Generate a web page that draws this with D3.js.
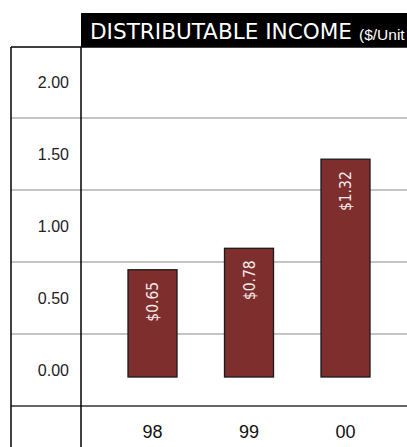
<!DOCTYPE html>
<html><head><meta charset="utf-8">
<script src="https://cdn.jsdelivr.net/npm/d3@7"></script>
<style>html,body{margin:0;padding:0;background:#fff;}svg{display:block;}</style>
</head><body>
<svg id="chart" width="407" height="447"></svg>
<script>
const categories = ["98", "99", "00"];
const values = [0.65, 0.78, 1.32];
const valueLabels = ["$0.65", "$0.78", "$1.32"];
const tickValues = [2.0, 1.5, 1.0, 0.5, 0.0];
const tickLabels = ["2.00", "1.50", "1.00", "0.50", "0.00"];
const gridValues = [1.75, 1.25, 0.75, 0.25];
const title = "DISTRIBUTABLE INCOME";
const subtitle = "($/Unit";

const svg = d3.select("#chart");
const W = 407, H = 447;
const leftX = 11, axisX = 81, topY = 47;

// bar value scale
const y = d3.scaleLinear().domain([0, 2]).range([377, 47]);
// row (table) scale for tick labels and grid lines
const row = d3.scaleLinear().domain([0, 2]).range([370, 82]);
const x = d3.scalePoint().domain(categories).range([152.5, 345.5]);
const barW = 49;

// title bar
svg.append("rect").attr("x", axisX).attr("y", 13).attr("width", W - axisX).attr("height", topY - 13).attr("fill", "#000");
svg.append("text").attr("x", 90).attr("y", 39).attr("fill", "#fff")
  .attr("textLength", 262).attr("lengthAdjust", "spacingAndGlyphs")
  .style("font-family", "'DejaVu Sans Condensed','DejaVu Sans',sans-serif").style("font-size", "21px")
  .text(title);
svg.append("text").attr("x", 359).attr("y", 40).attr("fill", "#fff")
  .style("font-size", "15.5px").style("font-family", "'Liberation Sans',Arial,sans-serif").text(subtitle);

// grid lines
svg.selectAll("line.grid").data(gridValues).join("line").attr("class", "grid")
  .attr("x1", leftX).attr("x2", W).attr("y1", d => row(d)).attr("y2", d => row(d))
  .attr("stroke", "#8a8a8a").attr("stroke-width", 1.2);
// bottom table line
svg.append("line").attr("x1", leftX).attr("x2", W).attr("y1", row(-0.25)).attr("y2", row(-0.25))
  .attr("stroke", "#333").attr("stroke-width", 1.5);
// top line
svg.append("line").attr("x1", leftX).attr("x2", W).attr("y1", topY).attr("y2", topY)
  .attr("stroke", "#000").attr("stroke-width", 1.5);
// vertical lines
svg.append("line").attr("x1", leftX).attr("x2", leftX).attr("y1", topY).attr("y2", H).attr("stroke", "#000").attr("stroke-width", 1.5);
svg.append("line").attr("x1", axisX).attr("x2", axisX).attr("y1", topY).attr("y2", H).attr("stroke", "#000").attr("stroke-width", 1.5);

// tick labels
svg.selectAll("text.tick").data(tickValues).join("text").attr("class", "tick")
  .attr("x", 69).attr("y", d => row(d) + 6).attr("text-anchor", "end")
  .style("font-family", "'Liberation Sans',Arial,sans-serif").style("font-size", "16px").attr("fill", "#222")
  .text((d, i) => tickLabels[i]);

// bars
svg.selectAll("rect.bar").data(values).join("rect").attr("class", "bar")
  .attr("x", (d, i) => x(categories[i]) - barW / 2).attr("width", barW)
  .attr("y", d => y(d)).attr("height", d => y(0) - y(d))
  .attr("fill", "#7f2e2e").attr("stroke", "#1a1a1a").attr("stroke-width", 1.3);

// value labels (rotated)
svg.selectAll("text.val").data(values).join("text").attr("class", "val")
  .attr("transform", (d, i) => `translate(${x(categories[i]) + 5.5},${y(d) + 12}) rotate(-90)`)
  .attr("text-anchor", "end").attr("fill", "#f5eaea")
  .style("font-family", "'DejaVu Sans Condensed','DejaVu Sans',sans-serif").style("font-size", "15.5px")
  .text((d, i) => valueLabels[i]);

// category labels
svg.selectAll("text.cat").data(categories).join("text").attr("class", "cat")
  .attr("x", d => x(d)).attr("y", 438).attr("text-anchor", "middle")
  .style("font-family", "'Liberation Sans',Arial,sans-serif").style("font-size", "18px").attr("fill", "#111")
  .text(d => d);
</script>
</body></html>
